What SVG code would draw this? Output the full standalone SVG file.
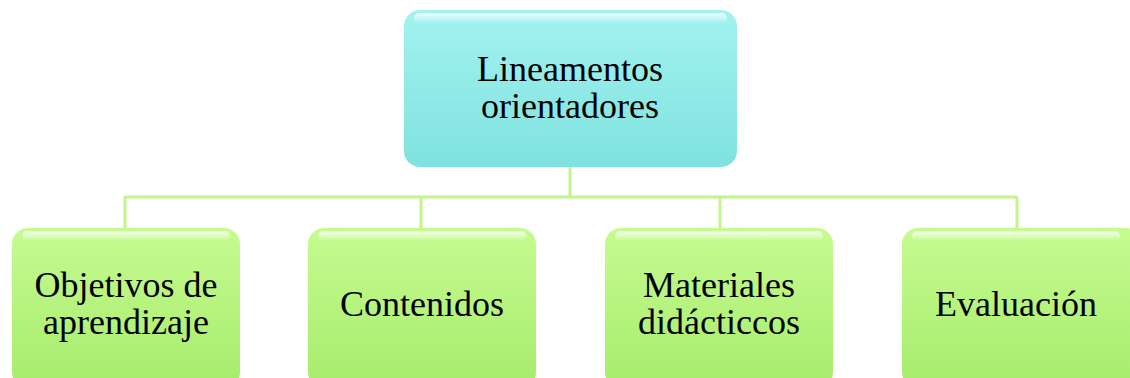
<svg xmlns="http://www.w3.org/2000/svg" width="1130" height="378" viewBox="0 0 1130 378">
<defs>
<linearGradient id="gc" x1="0" y1="0" x2="0" y2="1">
<stop offset="0" stop-color="#a3f2f0"/>
<stop offset="1" stop-color="#7fe2de"/>
</linearGradient>
<linearGradient id="gg" x1="0" y1="0" x2="0" y2="1">
<stop offset="0" stop-color="#c6fb90"/>
<stop offset="1" stop-color="#a6ec6c"/>
</linearGradient>
<linearGradient id="hl" x1="0" y1="0" x2="0" y2="1">
<stop offset="0" stop-color="#ffffff" stop-opacity="0.85"/>
<stop offset="1" stop-color="#ffffff" stop-opacity="0"/>
</linearGradient>
<linearGradient id="sd" x1="0" y1="0" x2="1" y2="0">
<stop offset="0" stop-color="#ffffff" stop-opacity="0.5"/>
<stop offset="1" stop-color="#ffffff" stop-opacity="0"/>
</linearGradient>
</defs>
<style>
.t{font-family:"Liberation Serif","Times New Roman",serif;font-size:36px;fill:#000;text-anchor:middle}
.c{fill:none;stroke:#c4f58c;stroke-width:3}
.h{fill:url(#hl)}
</style>
<g id="connectors">
<path class="c" d="M570 167V197M125 197H1017M125 196V228M421 196V228M720 196V228M1017 196V228"/>
</g>
<g id="n0">
<rect x="404" y="10" width="333" height="157" rx="16" fill="url(#gc)"/>
<rect x="414" y="13" width="313" height="10" rx="5" class="h"/>
<text class="t" x="570" y="81">Lineamentos</text>
<text class="t" x="570" y="118">orientadores</text>
</g>
<g id="n1">
<rect x="12" y="228" width="228" height="160" rx="16" fill="url(#gg)"/>
<rect x="22" y="231" width="208" height="10" rx="5" class="h"/>
<text class="t" x="126" y="297">Objetivos de</text>
<text class="t" x="126" y="334">aprendizaje</text>
</g>
<g id="n2">
<rect x="308" y="228" width="228" height="160" rx="16" fill="url(#gg)"/>
<rect x="318" y="231" width="208" height="10" rx="5" class="h"/>
<text class="t" x="422" y="316">Contenidos</text>
</g>
<g id="n3">
<rect x="605" y="228" width="228" height="160" rx="16" fill="url(#gg)"/>
<rect x="615" y="231" width="208" height="10" rx="5" class="h"/>
<text class="t" x="719" y="297">Materiales</text>
<text class="t" x="719" y="334">didácticcos</text>
</g>
<g id="n4">
<rect x="902" y="228" width="240" height="160" rx="16" fill="url(#gg)"/>
<rect x="912" y="231" width="208" height="10" rx="5" class="h"/>
<text class="t" x="1016" y="316">Evaluación</text>
</g>
</svg>
